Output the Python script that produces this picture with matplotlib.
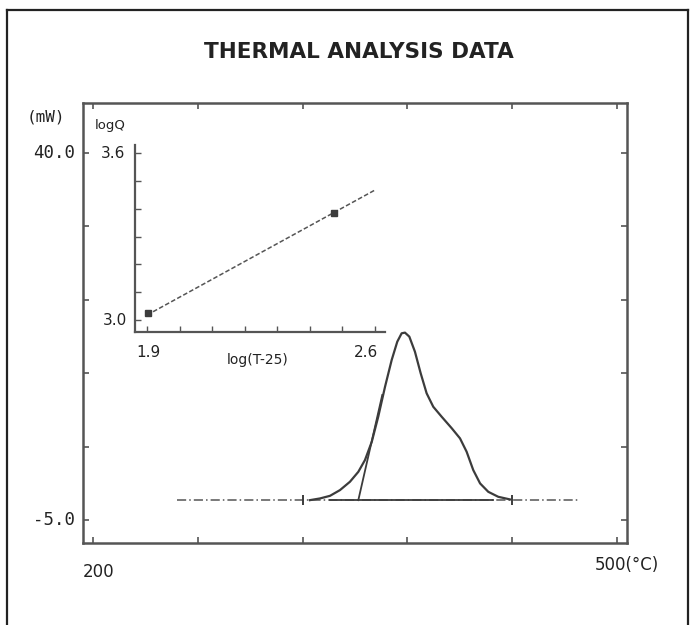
import numpy as np
import matplotlib
matplotlib.use("Agg")
import matplotlib.pyplot as plt
from matplotlib.lines import Line2D

# DSC trace: temperature (C) vs heat flow (mW)
temp = [324.2, 330.0, 335.7, 341.4, 347.1, 351.9, 355.7, 359.6, 363.3, 367.2,
        371.0, 374.2, 376.7, 378.6, 381.1, 384.3, 387.6, 391.0, 394.8, 399.6,
        405.4, 410.1, 413.9, 417.7, 421.6, 426.3, 432.0, 438.7]
heat = [-2.55, -2.34, -2.02, -1.32, -0.30, 0.92, 2.36, 4.60, 7.67, 11.35,
        14.62, 16.86, 17.89, 17.97, 17.48, 15.64, 12.99, 10.54, 8.89, 7.67,
        6.25, 5.02, 3.38, 1.13, -0.50, -1.53, -2.14, -2.46]

base_temp = [248.0, 478.0]
base_heat = [-2.55, -2.55]
peak_base_temp = [335.7, 429.0]
onset_temp = [351.9, 365.6]
onset_heat = [-2.55, 10.33]
mark_temp = [320, 440]

# inset: log(T-25) vs logQ
log_t = [1.9, 2.6]
log_q = [3.018, 3.467]
pt_log_t = [1.903, 2.474]
pt_log_q = [3.025, 3.384]

x_ticks = [200, 260, 320, 380, 440, 500]
y_ticks = [-5, 4, 13, 22, 31, 40]
in_x_ticks = [1.9, 2.0, 2.1, 2.2, 2.3, 2.4, 2.5, 2.6]
in_y_ticks = [3.0, 3.1, 3.2, 3.3, 3.4, 3.5, 3.6]

ink = "#3c3c3c"
mono = "DejaVu Sans Mono"

fig = plt.figure(figsize=(6.95, 6.25), dpi=100)

# outer frame
for xs, ys in [([7/695, 7/695], [0, 1 - 10/625]),
               ([7/695, 688/695], [1 - 10/625, 1 - 10/625]),
               ([688/695, 688/695], [0, 1 - 10/625])]:
    fig.add_artist(Line2D(xs, ys, transform=fig.transFigure, color="#222", lw=1.6))

fig.text(359/695, 1 - 52/625, "THERMAL ANALYSIS DATA", ha="center", va="center",
         fontsize=15.5, fontweight="bold", color="#222")

# main axes
ax = fig.add_axes([83/695, 1 - 543/625, 544/695, 440/625])
ax.plot(base_temp, base_heat, color="#555", lw=1.1, ls=(0, (6, 2, 1, 2)))
ax.plot(peak_base_temp, base_heat, color=ink, lw=1.3)
ax.plot(temp, heat, color=ink, lw=1.6)
ax.plot(onset_temp, onset_heat, color=ink, lw=1.3)
ax.plot(mark_temp, [base_heat[0]] * 2, ls="none", marker="|", ms=7, mew=1.4, color=ink)

ax.set_xlim(194.3, 505.7)
ax.set_ylim(-7.8, 46.1)
ax.set_xticks(x_ticks, labels=[""] * len(x_ticks))
ax.set_yticks(y_ticks, labels=[""] * len(y_ticks))
ax.tick_params(direction="in", length=4, width=1.2, color="#555",
               top=True, right=True)
for side, sp in ax.spines.items():
    sp.set_color("#555")
    sp.set_linewidth(1.8)
ax.spines["right"].set_linestyle((0, (2, 1)))
ax.spines["left"].set_linestyle((0, (4, 1)))

xt = ax.get_xaxis_transform()
yt = ax.get_yaxis_transform()
ax.text(203, -0.066, "200", transform=xt, ha="center", va="center",
        fontsize=12, color="#222")
ax.text(505.7, -0.05, "500(°C)", transform=xt, ha="center", va="center",
        fontsize=12, color="#222")
ax.text(-0.015, 40, "40.0", transform=yt, ha="right", va="center",
        fontsize=12.5, family=mono, color="#222")
ax.text(-0.015, -5, "-5.0", transform=yt, ha="right", va="center",
        fontsize=12.5, family=mono, color="#222")
ax.text(-0.068, 44.4, "(mW)", transform=yt, ha="center", va="center",
        fontsize=11.5, family=mono, color="#222")

# inset axes
ins = fig.add_axes([135/695, 1 - 332/625, 250/695, 187/625])
ins.patch.set_alpha(0)
ins.plot(log_t, log_q, color="#555", lw=1.1, ls=(0, (3, 1.5)))
ins.plot(pt_log_t, pt_log_q, ls="none", marker="s", ms=4, color=ink)
ins.set_xlim(1.863, 2.631)
ins.set_ylim(2.957, 3.629)
ins.set_xticks(in_x_ticks, labels=[""] * len(in_x_ticks))
ins.set_yticks(in_y_ticks, labels=[""] * len(in_y_ticks))
ins.tick_params(direction="in", length=4, width=1.0, color="#555")
ins.spines["top"].set_visible(False)
ins.spines["right"].set_visible(False)
for side in ["left", "bottom"]:
    ins.spines[side].set_color("#555")
    ins.spines[side].set_linewidth(1.6)

ixt = ins.get_xaxis_transform()
iyt = ins.get_yaxis_transform()
ins.text(1.904, -0.112, "1.9", transform=ixt, ha="center", va="center",
         fontsize=11, color="#222")
ins.text(2.572, -0.112, "2.6", transform=ixt, ha="center", va="center",
         fontsize=11, color="#222")
ins.text(2.24, -0.15, "log(T-25)", transform=ixt, ha="center", va="center",
         fontsize=10, color="#222")
ins.text(-0.04, 3.6, "3.6", transform=iyt, ha="right", va="center",
         fontsize=11, color="#222")
ins.text(-0.03, 3.0, "3.0", transform=iyt, ha="right", va="center",
         fontsize=11, color="#222")
ins.text(-0.1, 3.70, "logQ", transform=iyt, ha="center", va="center",
         fontsize=9.5, color="#222")

fig.savefig("out.png", dpi=100)
